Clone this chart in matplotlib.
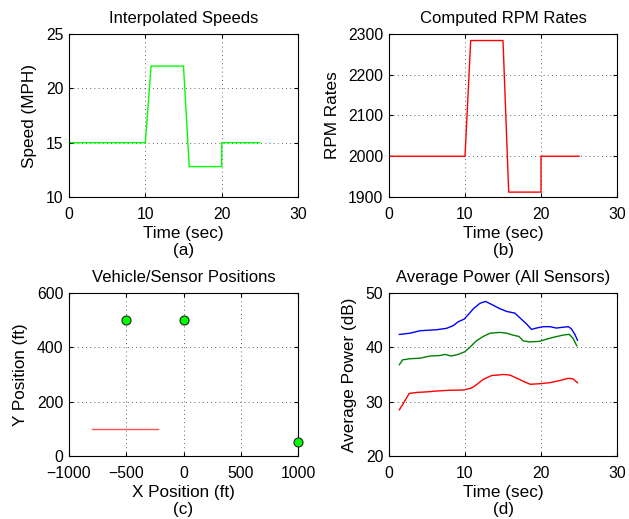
import matplotlib.pyplot as plt
import numpy as np

plt.rcParams['font.family'] = ['Liberation Sans', 'DejaVu Sans']
plt.rcParams['font.size'] = 11

# (a) interpolated speeds
t_speed = [0, 10, 10.75, 15, 15.75, 20, 20, 25]
speed = [15, 15, 22.05, 22.05, 12.8, 12.8, 15, 15]

# (b) computed rpm
t_rpm = [0, 10, 10.75, 15, 15.75, 20, 20, 25]
rpm = [2000, 2000, 2284, 2284, 1912, 1912, 2000, 2000]

# (c) vehicle / sensor positions
sensor_x = [-500, 0, 1000]
sensor_y = [500, 500, 50]
vehicle_x = [-800, -220]
vehicle_y = [100, 100]

# (d) average power per sensor
blue_t = [1.36, 2.76, 4.07, 6.26, 7.58, 8.45, 9.1, 9.9, 10.4, 11.1, 11.96, 12.7, 13.5,
          14.6, 15.5, 16.56, 17.4, 18.1, 18.75, 19.4, 20.3, 21.2, 22.0, 22.9, 23.6,
          24.0, 24.45, 24.8]
blue_p = [42.37, 42.6, 43.05, 43.24, 43.5, 44.0, 44.7, 45.2, 45.97, 47.1, 48.1, 48.45,
          47.9, 47.1, 46.6, 46.3, 45.2, 44.3, 43.3, 43.55, 43.8, 43.8, 43.55, 43.7,
          43.8, 43.4, 42.4, 41.3]
green_t = [1.36, 1.8, 2.76, 4.07, 5.4, 6.7, 7.35, 8.2, 9.1, 9.99, 10.6, 11.5, 12.4,
           13.3, 14.6, 15.5, 16.3, 17.1, 17.65, 18.5, 19.8, 20.7, 21.8, 22.9, 23.7,
           24.2, 24.7]
green_p = [36.8, 37.7, 37.9, 38.0, 38.4, 38.5, 38.7, 38.4, 38.7, 39.2, 39.96, 41.2,
           42.0, 42.6, 42.75, 42.6, 42.25, 42.0, 41.2, 41.0, 41.1, 41.5, 41.9, 42.25,
           42.4, 41.7, 40.3]
red_t = [1.36, 1.9, 2.65, 3.66, 4.97, 6.26, 8.0, 9.77, 10.86, 11.5, 12.4, 13.5, 15.0,
         15.9, 17.0, 17.9, 18.6, 19.8, 21.2, 22.5, 23.6, 24.2, 24.8]
red_p = [28.5, 29.7, 31.5, 31.7, 31.8, 31.96, 32.1, 32.15, 32.5, 33.1, 34.1, 34.8,
         35.0, 34.9, 34.2, 33.6, 33.2, 33.3, 33.5, 33.9, 34.3, 34.2, 33.5]

fig = plt.figure(figsize=(6.29, 5.19), dpi=100)
W, H = 629.0, 519.0


def make_ax(x0, x1, y0, y1):
    return fig.add_axes([x0 / W, 1 - y1 / H, (x1 - x0) / W, (y1 - y0) / H])


def style(ax, title, xlabel, ylabel, tag):
    ax.set_title(title, pad=8, fontsize=12)
    ax.set_xlabel(xlabel + '\n' + tag, linespacing=1.2, labelpad=3, fontsize=12.3)
    ax.set_ylabel(ylabel, fontsize=12.3, labelpad=6)
    ax.tick_params(direction='in', length=3, labelsize=11.3, top=True, right=True, pad=4)
    ax.tick_params(axis='x', pad=7)
    ax.grid(True, color='#333333', linestyle=(0, (1, 4)), linewidth=0.6)
    for s in ax.spines.values():
        s.set_linewidth(0.8)


ax_a = make_ax(69, 298, 34, 197)
ax_a.plot(t_speed, speed, color='#00ff00', lw=1)
ax_a.set_xlim(0, 30)
ax_a.set_ylim(10, 25)
ax_a.set_xticks([0, 10, 20, 30])
ax_a.set_yticks([10, 15, 20, 25])
style(ax_a, 'Interpolated Speeds', 'Time (sec)', 'Speed (MPH)', '(a)')

ax_b = make_ax(389, 617, 34, 197)
ax_b.plot(t_rpm, rpm, color='red', lw=1)
ax_b.set_xlim(0, 30)
ax_b.set_ylim(1900, 2300)
ax_b.set_xticks([0, 10, 20, 30])
ax_b.set_yticks([1900, 2000, 2100, 2200, 2300])
style(ax_b, 'Computed RPM Rates', 'Time (sec)', 'RPM Rates', '(b)')

ax_c = make_ax(69, 298, 293, 456)
ax_c.plot(vehicle_x, vehicle_y, color='#ff5555', lw=1)
ax_c.plot(sensor_x, sensor_y, 'o', color='#00ff00', markeredgecolor='#222222',
          markersize=6.5, markeredgewidth=0.8, clip_on=False, zorder=5)
ax_c.set_xlim(-1000, 1000)
ax_c.set_ylim(0, 600)
ax_c.set_xticks([-1000, -500, 0, 500, 1000])
ax_c.set_yticks([0, 200, 400, 600])
style(ax_c, 'Vehicle/Sensor Positions', 'X Position (ft)', 'Y Position (ft)', '(c)')

ax_d = make_ax(389, 617, 293, 456)
ax_d.plot(blue_t, blue_p, color='blue', lw=1)
ax_d.plot(green_t, green_p, color='green', lw=1)
ax_d.plot(red_t, red_p, color='red', lw=1)
ax_d.set_xlim(0, 30)
ax_d.set_ylim(20, 50)
ax_d.set_xticks([0, 10, 20, 30])
ax_d.set_yticks([20, 30, 40, 50])
style(ax_d, 'Average Power (All Sensors)', 'Time (sec)', 'Average Power (dB)', '(d)')

fig.savefig('out.png', dpi=100)
